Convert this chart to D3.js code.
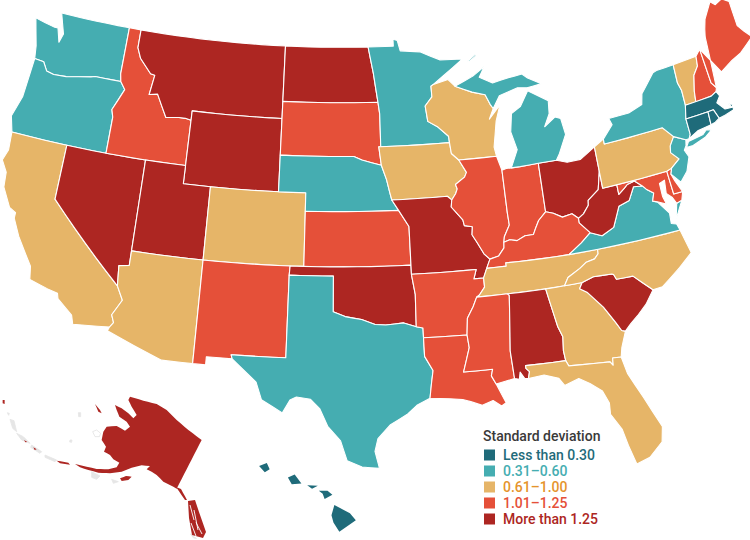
<!DOCTYPE html>
<html>
<head>
<meta charset="utf-8">
<script src="https://cdn.jsdelivr.net/npm/d3@7"></script>
<style>
  html, body { margin: 0; padding: 0; background: #fff; }
  text { font-family: Roboto, sans-serif; font-weight: 500; }
</style>
</head>
<body>
<div id="chart"></div>
<script>
// legend classes
var legendTitle = "Standard deviation";
var classLabels = ["Less than 0.30", "0.31\u20130.60", "0.61\u20131.00", "1.01\u20131.25", "More than 1.25"];
var classColors = ["#1f6b7a", "#45adb1", "#e6b568", "#e55039", "#ad2622"];
var classText = ["#1f6b7a", "#45adb1", "#e5942c", "#e55039", "#ad2622"];

// which class each state falls in
var lessThan030 = ["MA", "CT", "RI", "HI"];
var from031 = ["WA", "OR", "MN", "NE", "TX", "MI", "NY", "NJ", "VA"];
var from061 = ["CA", "AZ", "CO", "WI", "IA", "TN", "NC", "GA", "FL", "PA", "VT"];
var from101 = ["ID", "SD", "KS", "NM", "IL", "IN", "KY", "AR", "LA", "MS", "ME", "NH", "MD", "DE"];
var moreThan125 = ["NV", "UT", "MT", "WY", "ND", "MO", "OK", "OH", "WV", "AL", "SC", "AK"];
var classMembers = [lessThan030, from031, from061, from101, moreThan125];

function rev(a) { return a.slice().reverse(); }

// shared borders, lon/lat
var mnWi = [[-92.1,46.75],[-92.3,46.66],[-92.29,46.07],[-92.87,45.6],[-92.75,44.75],[-92.0,44.4],[-91.25,43.85],[-91.22,43.5]];
var iaWi = [[-91.22,43.5],[-91.15,42.9],[-90.64,42.51]];
var iaIl = [[-90.64,42.51],[-90.16,41.8],[-90.34,41.55],[-91.05,41.2],[-90.95,40.95],[-91.1,40.7],[-91.42,40.38]];
var moIl = [[-91.42,40.38],[-91.5,40.0],[-90.75,39.25],[-90.68,38.93],[-90.12,38.83],[-90.2,38.4],[-89.9,37.95],[-89.5,37.3],[-89.13,36.98]];
var moKyTn = [[-89.13,36.98],[-89.42,36.5],[-89.7,36.0]];
var tnAr = [[-89.7,36.0],[-89.7,35.5],[-90.1,35.1],[-90.3,35.0]];
var arMs = [[-90.3,35.0],[-90.6,34.5],[-91.05,33.9],[-91.17,33.0]];
var laMs = [[-91.17,33.0],[-91.1,32.3],[-91.6,31.0],[-89.73,31.0],[-89.85,30.65],[-89.6,30.18]];
var ilKy = [[-89.13,36.98],[-88.5,37.1],[-88.07,37.5],[-88.03,37.8]];
var wabash = [[-88.03,37.8],[-87.95,38.1],[-87.5,38.7],[-87.53,39.35],[-87.53,41.7]];
var inKy = [[-88.03,37.8],[-87.6,37.9],[-87.1,37.8],[-86.5,38.0],[-85.9,38.0],[-85.7,38.3],[-85.4,38.7],[-84.82,39.1]];
var ohKy = [[-84.82,39.1],[-84.3,38.95],[-83.7,38.65],[-83.0,38.73],[-82.6,38.42]];
var ohWv = [[-82.6,38.42],[-82.2,38.6],[-81.75,39.0],[-81.7,39.25],[-80.85,39.7],[-80.52,40.64]];
var kyWv = [[-82.6,38.42],[-82.6,38.17],[-81.97,37.54]];
var kyVa = [[-81.97,37.54],[-82.7,37.1],[-83.68,36.6]];
var kyTn = [[-83.68,36.6],[-86.5,36.65],[-88.07,36.68],[-88.07,36.5],[-89.42,36.5]];
var tnNc = [[-81.68,36.59],[-81.7,36.35],[-82.0,36.12],[-82.6,36.03],[-83.1,35.77],[-84.0,35.4],[-84.32,34.99]];
var scNc = [[-78.55,33.86],[-79.67,34.8],[-80.8,34.82],[-80.93,35.1],[-81.04,35.15],[-82.3,35.2],[-83.11,35.0]];
var scGa = [[-83.11,35.0],[-83.35,34.7],[-82.9,34.45],[-82.0,33.5],[-81.4,32.6],[-81.1,32.1],[-80.87,32.03]];
var gaAl = [[-85.61,34.98],[-85.18,32.87],[-84.95,32.3],[-85.05,31.55],[-85.0,31.0]];
var flGa = [[-85.0,31.0],[-84.86,30.7],[-82.21,30.57],[-82.05,30.36],[-82.0,30.75],[-81.45,30.72]];
var alMs = [[-88.2,35.0],[-88.1,34.9],[-88.47,31.9],[-88.4,30.37]];
var txLa = [[-94.04,33.02],[-94.04,32.0],[-93.55,31.2],[-93.7,30.5],[-93.85,29.7]];
var redRiver = [[-100.0,34.56],[-99.2,34.3],[-98.1,34.13],[-97.2,33.85],[-96.5,33.8],[-95.3,33.88],[-94.48,33.64]];
var arTx = [[-94.48,33.64],[-94.04,33.55],[-94.04,33.02]];
var azCaNv = [[-114.05,36.2],[-114.75,36.1],[-114.63,35.0]];
var azCa = [[-114.63,35.0],[-114.15,34.27],[-114.7,33.4],[-114.5,33.0],[-114.72,32.72]];
var columbia = [[-123.95,46.2],[-123.2,46.15],[-122.8,45.7],[-122.2,45.6],[-121.2,45.65],[-119.3,45.93],[-118.98,46.0],[-116.92,46.0]];
var orId = [[-116.92,46.0],[-116.5,45.6],[-116.85,45.0],[-117.2,44.4],[-117.03,44.0],[-117.03,42.0]];
var idMt = [[-116.05,49.0],[-116.05,48.0],[-115.7,47.45],[-114.7,46.7],[-114.35,46.65],[-114.55,45.56],[-113.9,45.65],[-113.45,45.05],[-113.0,44.45],[-112.0,44.55],[-111.5,44.55],[-111.05,44.48]];
var ndMn = [[-97.23,49.0],[-96.85,47.5],[-96.56,45.94]];
var sdMn = [[-96.56,45.94],[-96.45,45.3],[-96.45,43.5]];
var sdIa = [[-96.45,43.5],[-96.6,43.5],[-96.45,42.49]];
var sdNe = [[-104.05,43.0],[-98.5,43.0],[-97.9,42.8],[-96.45,42.49]];
var neIa = [[-96.45,42.49],[-96.1,41.7],[-95.9,41.0],[-95.77,40.58]];
var neMo = [[-95.77,40.58],[-95.31,40.0]];
var ksMo = [[-95.31,40.0],[-94.62,39.1],[-94.62,36.5]];
var wiUp = [[-90.4,46.55],[-89.1,46.13],[-88.1,45.9],[-87.8,45.35],[-87.6,45.1]];
var nyPa = [[-79.76,42.27],[-79.76,42.0],[-75.35,42.0],[-74.7,41.36]];
var paNj = [[-74.7,41.36],[-75.1,40.95],[-75.2,40.6],[-74.72,40.15],[-75.4,39.8]];
var potomac = [[-76.95,38.3],[-77.25,38.4],[-77.05,38.8],[-77.5,39.1],[-77.72,39.32]];
var mdWv = [[-77.72,39.32],[-78.2,39.68],[-78.75,39.6],[-79.0,39.45],[-79.48,39.2],[-79.48,39.72]];
var vaWv = [[-77.72,39.32],[-78.35,39.4],[-78.85,38.75],[-79.65,38.58],[-80.3,37.55],[-81.2,37.25],[-81.97,37.54]];
var vtNh = [[-71.5,45.01],[-71.6,44.5],[-72.05,44.1],[-72.35,43.3],[-72.46,42.73]];
var nhMe = [[-71.08,45.3],[-70.98,43.4],[-70.7,43.07]];

var stateRings = {
  WA: [[[-124.7,48.38],[-123.1,48.15],[-122.75,48.15],[-122.4,47.4],[-122.2,47.9],[-122.75,49.0],[-117.03,49.0],[-117.04,46.42]].concat(rev(columbia)).concat([[-124.1,46.9]])],
  OR: [[[-124.2,42.0],[-124.55,42.84],[-124.1,44.0]].concat(columbia).concat(orId).concat([[-120.0,42.0]])],
  CA: [[[-124.2,42.0],[-120.0,42.0],[-120.0,39.0]].concat(azCa).concat([[-117.12,32.53],[-117.3,33.0],[-118.4,33.75],[-118.5,34.03],[-119.2,34.15],[-120.5,34.45],[-120.65,35.15],[-121.9,36.6],[-122.5,37.5],[-122.5,37.8],[-123.0,38.0],[-123.75,39.0],[-123.85,39.8],[-124.35,40.4],[-124.1,41.0]])],
  NV: [[[-120.0,42.0],[-114.05,42.0]].concat(azCaNv).concat([[-120.0,39.0]])],
  ID: [[[-117.03,49.0]].concat(idMt).concat([[-111.05,42.0]]).concat(rev(orId)).concat([[-117.04,46.42]])],
  MT: [[[-116.05,49.0],[-104.05,49.0],[-104.05,45.0],[-111.05,45.0]].concat(rev(idMt))],
  WY: [[[-111.05,45.0],[-104.05,45.0],[-104.05,41.0],[-111.05,41.0]]],
  UT: [[[-114.05,42.0],[-111.05,42.0],[-111.05,41.0],[-109.05,41.0],[-109.05,37.0],[-114.05,37.0]]],
  CO: [[[-109.05,41.0],[-102.05,41.0],[-102.05,37.0],[-109.05,37.0]]],
  AZ: [[[-114.05,37.0],[-109.05,37.0],[-109.05,31.33],[-111.07,31.33],[-114.81,32.5]].concat(rev(azCa)).concat(rev(azCaNv))],
  NM: [[[-109.05,37.0],[-103.0,37.0],[-103.04,36.5],[-103.06,32.0],[-106.62,32.0],[-106.53,31.78],[-108.21,31.78],[-108.21,31.33],[-109.05,31.33]]],
  ND: [[[-104.05,49.0]].concat(ndMn).concat([[-104.05,45.94]])],
  SD: [[[-104.05,45.94]].concat(sdMn).concat(sdIa).concat(rev(sdNe))],
  NE: [sdNe.concat(neIa).concat(neMo).concat([[-102.05,40.0],[-102.05,41.0],[-104.05,41.0]])],
  KS: [[[-102.05,40.0]].concat(ksMo.slice(0, 2)).concat([[-94.62,37.0],[-102.05,37.0]])],
  OK: [[[-103.0,37.0],[-94.62,37.0],[-94.62,36.5],[-94.43,35.4],[-94.48,33.64]].concat(rev(redRiver)).concat([[-100.0,36.5],[-103.04,36.5]])],
  TX: [[[-103.04,36.5],[-100.0,36.5]].concat(redRiver).concat(arTx).concat(txLa).concat([[-94.7,29.35],[-95.3,28.9],[-96.4,28.35],[-97.2,27.6],[-97.4,26.9],[-97.15,25.96],[-98.2,26.05],[-99.1,26.4],[-99.5,27.5],[-100.3,28.3],[-100.8,29.25],[-101.4,29.77],[-102.3,29.88],[-102.7,29.7],[-103.15,28.98],[-104.5,29.65],[-104.9,30.6],[-106.0,31.4],[-106.53,31.78],[-106.62,32.0],[-103.06,32.0]])],
  MN: [[[-97.23,49.0],[-95.15,49.0],[-95.15,49.38],[-94.8,49.3],[-94.6,48.72],[-93.0,48.6],[-91.4,48.07],[-89.6,48.0]].concat(mnWi).concat(rev(sdMn)).concat(rev(ndMn.slice(1)))],
  IA: [[[-96.45,43.5]].concat(iaWi).concat(iaIl).concat([[-91.72,40.6]]).concat(rev(neIa)).concat(rev(sdIa))],
  MO: [[[-95.77,40.58],[-91.72,40.6]].concat(moIl).concat(moKyTn).concat([[-90.37,36.0],[-90.15,36.5]]).concat(rev(ksMo)).concat([[-95.31,40.0]])],
  AR: [[[-94.62,36.5],[-90.15,36.5],[-90.37,36.0]].concat(tnAr).concat(arMs).concat(rev(arTx)).concat([[-94.43,35.4]])],
  LA: [[[-94.04,33.02]].concat(laMs).concat([[-89.4,29.75],[-89.1,29.1],[-89.4,28.95],[-89.9,29.3],[-90.6,29.1],[-91.3,29.35],[-91.8,29.5],[-92.6,29.6]]).concat(rev(txLa))],
  WI: [mnWi.concat(iaWi).concat([[-87.8,42.49],[-87.9,43.0],[-87.5,44.4],[-87.05,45.25],[-88.0,44.55]]).concat(rev(wiUp)).concat([[-90.9,46.95]])],
  IL: [iaIl.concat(moIl).concat(ilKy).concat(wabash).concat([[-87.8,42.49]])],
  IN: [[[-87.53,41.7],[-87.2,41.76],[-84.8,41.76]].concat(rev(inKy)).concat(wabash.slice(1))],
  OH: [[[-84.8,41.76],[-83.45,41.73],[-82.7,41.5],[-81.7,41.5],[-80.52,41.98],[-80.52,40.64]].concat(rev(ohWv)).concat(rev(ohKy))],
  KY: [[[-89.13,36.98]].concat(ilKy.slice(1)).concat(inKy.slice(1)).concat(ohKy.slice(1)).concat(kyWv.slice(1)).concat(kyVa.slice(1)).concat(kyTn.slice(1))],
  TN: [[[-89.42,36.5]].concat(rev(kyTn).slice(1)).concat([[-81.68,36.59]]).concat(tnNc).concat([[-90.3,35.0]]).concat(rev(tnAr)).concat([[-89.7,36.0]])],
  MS: [[[-90.3,35.0],[-88.2,35.0]].concat(alMs).concat(rev(laMs)).concat(rev(arMs))],
  AL: [[[-88.2,35.0]].concat(gaAl).concat([[-87.6,31.0],[-87.6,30.85],[-87.4,30.65],[-87.52,30.28],[-87.75,30.3],[-88.0,30.68],[-88.1,30.3]]).concat(rev(alMs))],
  GA: [[[-84.32,34.99]].concat(scGa).concat([[-81.3,31.2]]).concat(rev(flGa)).concat(rev(gaAl))],
  FL: [[[-87.6,31.0]].concat(flGa).concat([[-81.25,29.8],[-80.55,28.4],[-79.75,26.7],[-79.95,25.9],[-80.85,25.2],[-81.7,24.95],[-82.0,26.0],[-82.2,26.9],[-82.75,27.8],[-82.7,28.4],[-83.0,29.1],[-83.7,29.6],[-84.35,29.95],[-85.3,29.68],[-85.6,30.1],[-86.5,30.38],[-87.52,30.28],[-87.4,30.65],[-87.6,30.85]])],
  SC: [scNc.concat(scGa).concat([[-80.45,32.35],[-79.9,32.7],[-79.2,33.2]])],
  NC: [[[-81.68,36.59],[-75.87,36.55],[-75.5,35.25],[-76.5,34.65],[-77.9,33.9]].concat(scNc).concat([[-84.32,34.99]]).concat(rev(tnNc))],
  VA: [[[-83.68,36.6],[-75.87,36.55],[-76.0,36.9],[-76.35,37.0],[-76.3,37.55]].concat(potomac).concat(vaWv.slice(1)).concat(kyVa.slice(1)),
       [[-75.65,37.95],[-75.25,38.03],[-75.95,37.15]]],
  WV: [[[-80.52,40.64],[-80.52,39.72]].concat(rev(mdWv)).concat(vaWv.slice(1)).concat(rev(kyWv)).concat(ohWv.slice(1))],
  MD: [[[-79.48,39.72],[-75.79,39.72],[-75.7,38.46],[-75.05,38.45],[-75.25,38.03],[-75.65,37.95],[-75.85,38.3],[-76.2,38.6],[-76.1,39.3],[-76.5,39.2],[-76.5,38.5],[-76.35,38.05]].concat(potomac).concat(mdWv.slice(1))],
  DE: [[[-75.79,39.72],[-75.4,39.8],[-75.55,39.5],[-75.4,39.1],[-75.05,38.45],[-75.7,38.46]]],
  PA: [[[-80.52,41.98]].concat(nyPa).concat(paNj.slice(1)).concat([[-75.79,39.72],[-80.52,39.72],[-80.52,40.64]])],
  NJ: [[[-73.9,41.0]].concat(paNj).concat([[-75.55,39.5],[-75.0,38.95],[-74.4,39.4],[-74.0,40.1],[-74.2,40.5],[-74.0,40.7]])],
  NY: [nyPa.concat([[-73.9,41.0],[-73.65,41.0],[-73.49,41.2],[-73.5,42.05],[-73.27,42.75],[-73.25,43.55],[-73.4,44.0],[-73.35,45.01],[-74.7,45.0],[-75.0,44.95],[-76.2,44.05],[-76.4,43.5],[-77.5,43.27],[-79.05,43.27],[-78.9,42.9]]),
       [[-74.0,40.6],[-73.75,40.87],[-72.6,40.98],[-72.3,41.15],[-71.9,41.07],[-72.5,40.8],[-73.5,40.6]]],
  VT: [[[-73.35,45.01]].concat(vtNh).concat([[-73.27,42.75],[-73.25,43.55],[-73.4,44.0]])],
  NH: [[[-71.5,45.01],[-71.08,45.3]].concat(nhMe.slice(1)).concat([[-70.82,42.87],[-71.25,42.74]]).concat(rev(vtNh).slice(0, -1))],
  ME: [rev(nhMe).concat([[-70.0,43.75],[-69.0,44.1],[-68.2,44.3],[-67.0,44.85],[-67.45,45.3],[-67.8,45.7],[-67.8,47.07],[-68.3,47.36],[-68.9,47.2],[-69.23,47.46],[-70.0,46.7],[-70.25,46.2],[-70.4,45.8]])],
  MA: [[[-73.5,42.05],[-73.27,42.75],[-71.25,42.74],[-70.82,42.87],[-70.65,42.6],[-71.0,42.3],[-70.55,41.85],[-70.0,41.8],[-70.25,42.07],[-69.95,41.95],[-69.97,41.65],[-70.65,41.55],[-71.15,41.5],[-71.38,42.02],[-71.8,42.02]]],
  CT: [[[-73.5,42.05],[-71.8,42.02],[-71.85,41.32],[-72.9,41.25],[-73.65,41.0],[-73.49,41.2]]],
  RI: [[[-71.8,42.02],[-71.38,42.02],[-71.15,41.5],[-71.5,41.37],[-71.85,41.32]]],
  MI: [[[-86.82,41.76],[-84.8,41.76],[-83.45,41.73],[-83.15,42.05],[-82.45,43.0],[-82.6,43.9],[-83.0,44.05],[-83.9,43.65],[-83.4,44.3],[-83.3,45.0],[-84.75,45.78],[-85.5,45.0],[-86.25,44.7],[-86.5,43.7],[-86.2,42.7]],
       wiUp.concat([[-87.0,45.75],[-85.5,46.05],[-84.75,45.95],[-83.6,46.0],[-84.6,46.47],[-85.0,46.75],[-86.1,46.67],[-87.4,46.5],[-88.4,46.9],[-87.9,47.45],[-88.9,47.0]]),
       [[-89.2,47.85],[-88.5,48.18],[-88.45,48.1],[-89.1,47.8]]]
};

var hawaiiRings = [
  [[-155.9,20.25],[-155.1,19.85],[-154.8,19.5],[-155.65,18.95],[-155.95,19.4],[-156.05,19.75]],
  [[-156.7,20.95],[-156.25,20.95],[-156.0,20.75],[-156.4,20.55],[-156.5,20.8]],
  [[-157.3,21.22],[-156.75,21.2],[-157.05,21.05]],
  [[-158.3,21.6],[-157.95,21.75],[-157.6,21.3],[-158.1,21.27]],
  [[-159.8,22.15],[-159.4,22.3],[-159.25,22.0],[-159.5,21.85]]
];

var alaskaRings = [
  [[-154,70.67],[-151.33,69.87],[-148.67,69.2],[-146.67,68],[-144.67,66],[-142.33,64],[-139.67,62],[-144.67,52.27],[-145.33,52.67],[-147.33,53.67],[-148.67,55],[-149.67,55.67],[-150.67,56.13],[-150,56.8],[-151.67,56.93],[-153.67,56.47],[-155.67,55.67],[-158,55.33],[-160.33,55.47],[-162.33,56],[-164,56.53],[-165,57.2],[-164.33,57.07],[-162.67,56.67],[-160.67,56.2],[-158.33,56.13],[-156.67,56.53],[-156.13,57.47],[-157.33,58.13],[-158,59],[-159.2,59.67],[-158.8,60.67],[-159.67,62],[-159.33,63.67],[-158.67,64.67],[-156.67,64.8],[-155,63.87],[-154,64.67],[-154.67,65.67],[-156.13,66.67],[-156.67,68],[-157,69],[-155.67,68.33],[-154.33,67.33],[-153.33,66.33],[-152.67,67],[-153.67,68.67],[-154.33,70]],
  [[-144.8,52.6],[-143.8,52.2],[-142.6,50],[-143,50]],
  [[-142.4,49.8],[-141,50],[-140.2,47.6],[-138.8,43.6],[-139.4,42.4],[-141.6,43],[-142.2,46.4]],
  [[-156,54.33],[-154.8,54.8],[-153.67,54.67],[-154.33,54],[-155.67,53.8]],
  [[-161,69.2],[-160,68],[-159.67,67.33],[-160.33,67.67]],
  [[-179.47,70],[-179.07,70],[-179.07,69.2],[-179.47,69.33]],
  [[-175.2,62],[-174.53,61.6],[-174.93,61.53]],
  [[-173.33,60.53],[-172.67,60.13],[-173.07,60]],
  [[-168.67,57.87],[-166.33,57.47],[-166,57.07],[-168,57.33]]
];

// white channels between the panhandle islands
var panhandleChannels = [
  [[-142,49],[-141.2,46]],
  [[-141.2,48],[-140.4,44]],
  [[-141.8,45.4],[-140.8,42.8]],
  [[-140.8,45.5],[-139.6,43.2]]
];

// outlying islands drawn pale in the reference
var greyIslands = [
  [[-178,66.13],[-177.2,65.87],[-176.67,63.67],[-177.47,64.33]],
  [[-176.67,63.33],[-175.33,62.67],[-174,61.33],[-175.67,62]],
  [[-173.67,61],[-171.67,59.67],[-172,59.33],[-173.87,60.53]],
  [[-171,59],[-168.67,58],[-169,57.67],[-171,58.53]],
  [[-161.67,55.67],[-160,54.8],[-160.67,54.13],[-161.67,54.53]],
  [[-157.67,54.13],[-156.33,53.67],[-157.33,53.33]],
  [[-164.33,67.47],[-163.87,67.47],[-163.87,66.67],[-164.27,66.67]],
  [[-166,62],[-165.6,62],[-165.67,61.53],[-166.07,61.6]],
  [[-178.53,67.47],[-178.13,67.33],[-178.27,66.93]],
  [[-141.9,43.2],[-140.7,42.3],[-141.3,42.4]]
];
var hollowIsland = [[[-161.47,63.67],[-160.67,64],[-159.87,63.33],[-160.13,62.67],[-161,62.67]]];

var width = 750;
var height = 540;

var svg = d3.select("#chart")
  .append("svg")
  .attr("width", width)
  .attr("height", height);

// lower 48 and Hawaii get conic projections, Alaska plain lon/lat scales
var conus = d3.geoConicEqualArea()
  .parallels([29.5, 45.5])
  .rotate([99.5, 0])
  .center([0, 37.5])
  .scale(1045)
  .translate([340.6, 257.7]);

// the reference's east coast runs a bit taller than the cone gives
function conusPoint(p) {
  var q = conus(p);
  var t = Math.max(0, (q[0] - 520) / 230);
  return [q[0], 300 + (q[1] - 300) * (1 + 0.06 * t)];
}

var akX = d3.scaleLinear().domain([-180, -130]).range([0, 250]);
var akY = d3.scaleLinear().domain([72, 42]).range([390, 540]);

function alaskaPoint(p) { return [akX(p[0]), akY(p[1])]; }

var hiProj = d3.geoConicEqualArea()
  .parallels([8, 18])
  .rotate([157, 0])
  .center([0, 20.5])
  .scale(1180)
  .translate([313, 500]);

var colorScale = d3.scaleOrdinal()
  .domain(d3.range(classLabels.length))
  .range(classColors);

function stateClass(abbr) {
  return classMembers.findIndex(function(list) { return list.indexOf(abbr) >= 0; });
}

// straight runs follow the parallels, so add steps before projecting
function densify(ring) {
  var out = [];
  ring.forEach(function(p, i) {
    var q = ring[(i + 1) % ring.length];
    var n = Math.max(1, Math.ceil(Math.max(Math.abs(q[0] - p[0]), Math.abs(q[1] - p[1]))));
    d3.range(n).forEach(function(k) {
      out.push([p[0] + (q[0] - p[0]) * k / n, p[1] + (q[1] - p[1]) * k / n]);
    });
  });
  return out;
}

var line = d3.line().curve(d3.curveLinearClosed);
var openLine = d3.line();

function ringPath(rings, proj) {
  return rings.map(function(r) { return line(densify(r).map(proj)); }).join(" ");
}

var mapGroup = svg.append("g");

mapGroup.selectAll("path.state")
  .data(Object.keys(stateRings))
  .enter()
  .append("path")
  .attr("class", "state")
  .attr("d", function(d) { return ringPath(stateRings[d], conusPoint); })
  .attr("fill", function(d) { return colorScale(stateClass(d)); })
  .attr("stroke", "#fff")
  .attr("stroke-width", 1.1)
  .attr("stroke-linejoin", "round");

mapGroup.append("path")
  .attr("d", ringPath(greyIslands, alaskaPoint))
  .attr("fill", "#e6e6e6")
  .attr("stroke", "#e6e6e6")
  .attr("stroke-width", 0.8);

mapGroup.append("path")
  .attr("d", ringPath(hollowIsland, alaskaPoint))
  .attr("fill", "#fff")
  .attr("stroke", "#d8d8d8")
  .attr("stroke-width", 0.6);

mapGroup.append("path")
  .attr("d", ringPath(alaskaRings, alaskaPoint))
  .attr("fill", colorScale(stateClass("AK")));

mapGroup.append("path")
  .attr("d", panhandleChannels.map(function(c) { return openLine(c.map(alaskaPoint)); }).join(" "))
  .attr("fill", "none")
  .attr("stroke", "#fff")
  .attr("stroke-width", 0.9);

mapGroup.append("path")
  .attr("d", ringPath(hawaiiRings, hiProj))
  .attr("fill", colorScale(stateClass("HI")));

// legend
var legendY = d3.scalePoint()
  .domain(d3.range(classLabels.length))
  .range([455, 519]);

var legend = svg.append("g");

legend.append("text")
  .attr("x", 483)
  .attr("y", 441)
  .attr("font-size", 14)
  .attr("fill", "#3a3a3a")
  .text(legendTitle);

var rows = legend.selectAll("g.row")
  .data(classLabels)
  .enter()
  .append("g")
  .attr("class", "row")
  .attr("transform", function(d, i) { return "translate(484," + legendY(i) + ")"; });

rows.append("rect")
  .attr("y", -5.5)
  .attr("width", 11)
  .attr("height", 11)
  .attr("fill", function(d, i) { return classColors[i]; });

rows.append("text")
  .attr("x", 19)
  .attr("y", 5)
  .attr("font-size", 14)
  .attr("fill", function(d, i) { return classText[i]; })
  .text(function(d) { return d; });
</script>
</body>
</html>
